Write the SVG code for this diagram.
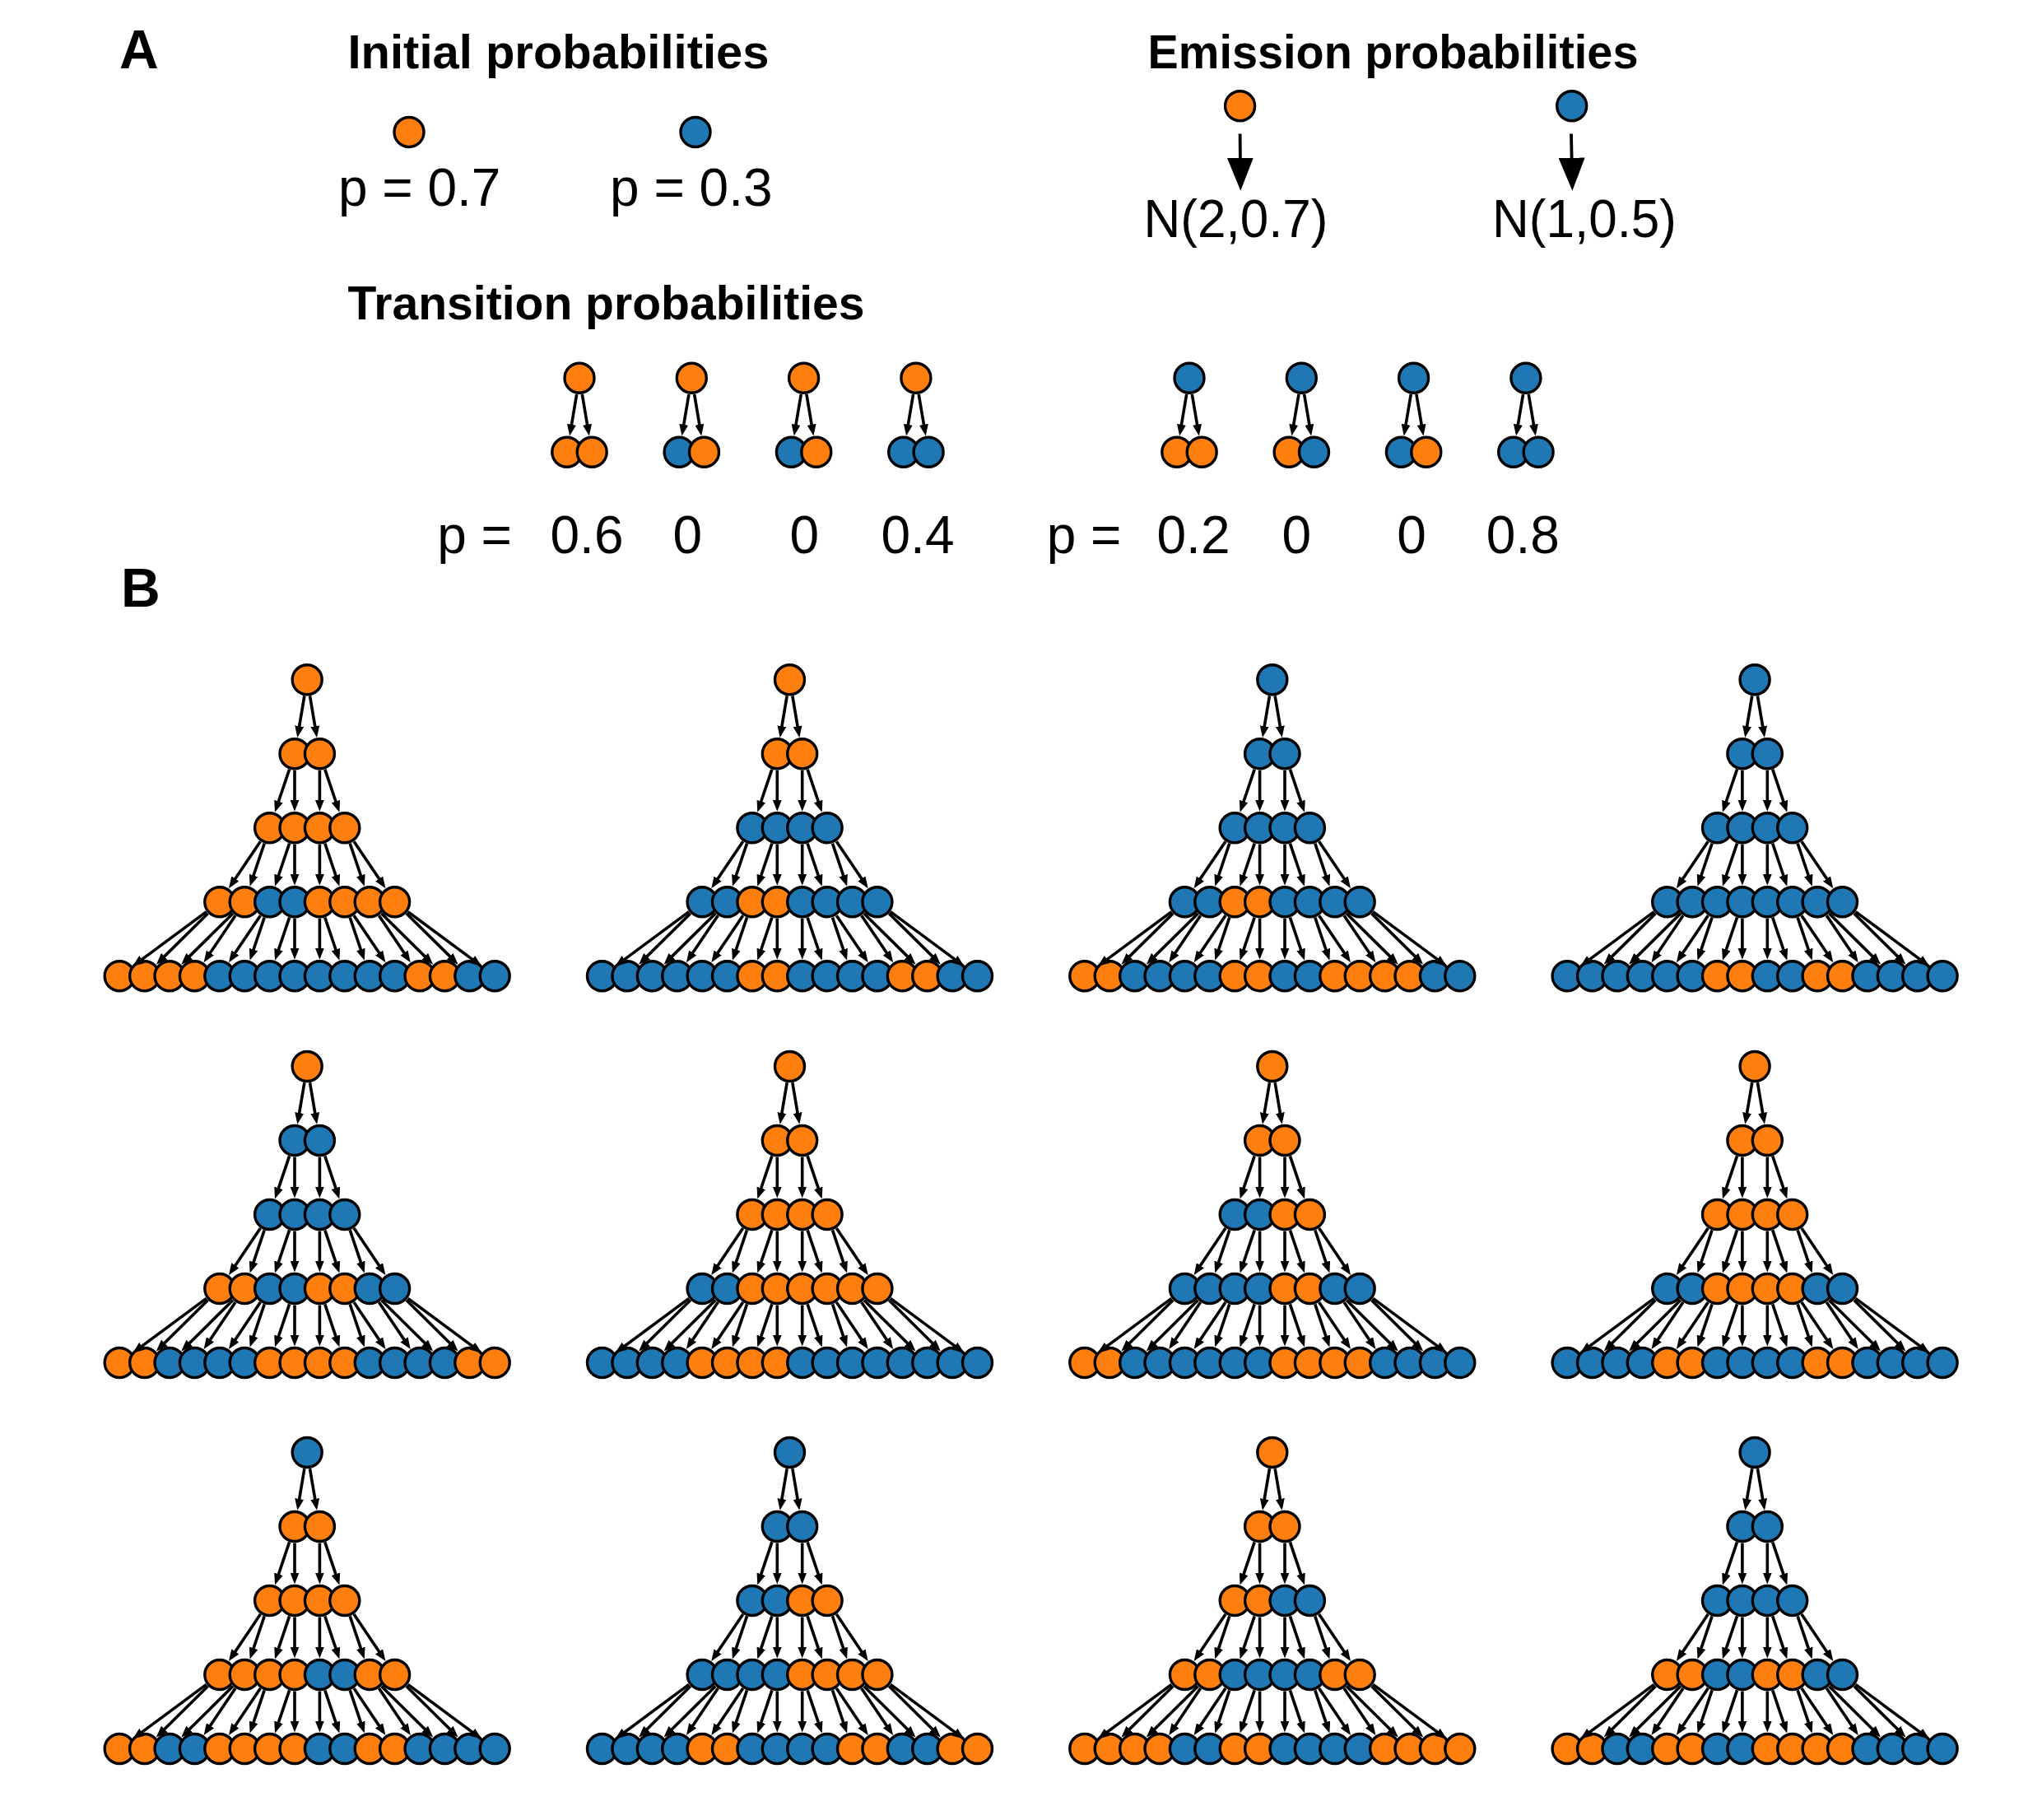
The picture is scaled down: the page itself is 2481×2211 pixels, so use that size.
<svg xmlns="http://www.w3.org/2000/svg" xmlns:xlink="http://www.w3.org/1999/xlink" width="2481" height="2211" viewBox="0 0 2481 2211">
<style>
.o{fill:#ff7f0e;stroke:#000;stroke-width:3.4}
.b{fill:#1f77b4;stroke:#000;stroke-width:3.4}
.e{stroke:#000;stroke-width:3.6;fill:none;marker-end:url(#ah)}
.em{stroke:#000;stroke-width:3.8;fill:none;marker-end:url(#bah)}
.h{font-family:"Liberation Sans",Arial,sans-serif;font-weight:bold;font-size:58px;text-anchor:middle;fill:#000}
.lab{font-family:"Liberation Sans",Arial,sans-serif;font-weight:bold;font-size:66px;fill:#000}
.t{font-family:"Liberation Sans",Arial,sans-serif;font-size:64px;text-anchor:middle;fill:#000}
</style>
<defs>
<marker id="ah" markerUnits="userSpaceOnUse" markerWidth="14" markerHeight="11" viewBox="0 0 14 11" refX="4" refY="5.5" orient="auto"><path d="M0,0 L14,5.5 L0,11 z" fill="#000"/></marker>
<marker id="bah" markerUnits="userSpaceOnUse" markerWidth="40" markerHeight="32" viewBox="0 0 40 32" refX="10" refY="16" orient="auto"><path d="M0,0 L40,16 L0,32 z" fill="#000"/></marker>
<g id="pairEdges">
<line class="e" x1="-3.33" y1="19.72" x2="-10.2" y2="60.42"/>
<line class="e" x1="3.33" y1="19.72" x2="10.2" y2="60.42"/>
</g>
<g id="treeEdges">
<line class="e" x1="-3.33" y1="19.72" x2="-10.2" y2="60.42"/>
<line class="e" x1="3.33" y1="19.72" x2="10.2" y2="60.42"/>
<line class="e" x1="-21.6" y1="108.95" x2="-36" y2="151.58"/>
<line class="e" x1="-15.2" y1="110" x2="-15.2" y2="150"/>
<line class="e" x1="15.2" y1="110" x2="15.2" y2="150"/>
<line class="e" x1="21.6" y1="108.95" x2="36" y2="151.58"/>
<line class="e" x1="-56.8" y1="196.57" x2="-89.61" y2="245.14"/>
<line class="e" x1="-52" y1="198.95" x2="-66.4" y2="241.58"/>
<line class="e" x1="-21.6" y1="198.95" x2="-36" y2="241.58"/>
<line class="e" x1="-15.2" y1="200" x2="-15.2" y2="240"/>
<line class="e" x1="15.2" y1="200" x2="15.2" y2="240"/>
<line class="e" x1="21.6" y1="198.95" x2="36" y2="241.58"/>
<line class="e" x1="52" y1="198.95" x2="66.4" y2="241.58"/>
<line class="e" x1="56.8" y1="196.57" x2="89.61" y2="245.14"/>
<line class="e" x1="-122.48" y1="281.9" x2="-203.89" y2="342.15"/>
<line class="e" x1="-120.64" y1="284.05" x2="-176.25" y2="338.93"/>
<line class="e" x1="-90.24" y1="284.05" x2="-145.85" y2="338.93"/>
<line class="e" x1="-87.2" y1="286.57" x2="-120.01" y2="335.14"/>
<line class="e" x1="-56.8" y1="286.57" x2="-89.61" y2="335.14"/>
<line class="e" x1="-52" y1="288.95" x2="-66.4" y2="331.58"/>
<line class="e" x1="-21.6" y1="288.95" x2="-36" y2="331.58"/>
<line class="e" x1="-15.2" y1="290" x2="-15.2" y2="330"/>
<line class="e" x1="15.2" y1="290" x2="15.2" y2="330"/>
<line class="e" x1="21.6" y1="288.95" x2="36" y2="331.58"/>
<line class="e" x1="52" y1="288.95" x2="66.4" y2="331.58"/>
<line class="e" x1="56.8" y1="286.57" x2="89.61" y2="335.14"/>
<line class="e" x1="87.2" y1="286.57" x2="120.01" y2="335.14"/>
<line class="e" x1="90.24" y1="284.05" x2="145.85" y2="338.93"/>
<line class="e" x1="120.64" y1="284.05" x2="176.25" y2="338.93"/>
<line class="e" x1="122.48" y1="281.9" x2="203.89" y2="342.15"/>
</g>
</defs>
<rect width="2481" height="2211" fill="#fff"/>

<!-- Labels -->
<text class="lab" x="145" y="83">A</text>
<text class="lab" x="147" y="737">B</text>
<text class="h" x="678.5" y="83" textLength="512" lengthAdjust="spacingAndGlyphs">Initial probabilities</text>
<text class="h" x="1692.5" y="83" textLength="596" lengthAdjust="spacingAndGlyphs">Emission probabilities</text>
<text class="h" x="736.5" y="388" textLength="628" lengthAdjust="spacingAndGlyphs">Transition probabilities</text>
<text class="t" x="509.7" y="250">p = 0.7</text>
<text class="t" x="839.8" y="250">p = 0.3</text>
<text class="t" x="1501.5" y="288" textLength="224" lengthAdjust="spacingAndGlyphs">N(2,0.7)</text>
<text class="t" x="1925" y="288" textLength="224" lengthAdjust="spacingAndGlyphs">N(1,0.5)</text>
<text class="t" x="576.5" y="672">p =</text>
<text class="t" x="713" y="672">0.6</text>
<text class="t" x="835.3" y="672">0</text>
<text class="t" x="977.3" y="672">0</text>
<text class="t" x="1115" y="672">0.4</text>
<text class="t" x="1317" y="672">p =</text>
<text class="t" x="1450" y="672">0.2</text>
<text class="t" x="1575.3" y="672">0</text>
<text class="t" x="1715" y="672">0</text>
<text class="t" x="1850.3" y="672">0.8</text>

<!-- Initial and emission nodes -->
<g id="init-orange"><circle class="o" cx="497" cy="160.5" r="18"/></g>
<g id="init-blue"><circle class="b" cx="845" cy="160.5" r="18"/></g>
<g id="emit-orange"><circle class="o" cx="1506.6" cy="128.8" r="18"/></g>
<g id="emit-blue"><circle class="b" cx="1909.7" cy="128.8" r="18"/></g>

<!-- Transition pairs -->
<g id="pair-o1" transform="translate(704,459.3)">
<g id="po1-p"><circle class="o" cx="0" cy="0" r="18"/></g><g id="po1-l"><circle class="o" cx="-15.2" cy="90" r="18"/></g><g id="po1-r"><circle class="o" cx="15.2" cy="90" r="18"/></g>
</g>
<g id="pair-o2" transform="translate(840.3,459.3)">
<g id="po2-p"><circle class="o" cx="0" cy="0" r="18"/></g><g id="po2-l"><circle class="b" cx="-15.2" cy="90" r="18"/></g><g id="po2-r"><circle class="o" cx="15.2" cy="90" r="18"/></g>
</g>
<g id="pair-o3" transform="translate(976.6,459.3)">
<g id="po3-p"><circle class="o" cx="0" cy="0" r="18"/></g><g id="po3-l"><circle class="b" cx="-15.2" cy="90" r="18"/></g><g id="po3-r"><circle class="o" cx="15.2" cy="90" r="18"/></g>
</g>
<g id="pair-o4" transform="translate(1112.9,459.3)">
<g id="po4-p"><circle class="o" cx="0" cy="0" r="18"/></g><g id="po4-l"><circle class="b" cx="-15.2" cy="90" r="18"/></g><g id="po4-r"><circle class="b" cx="15.2" cy="90" r="18"/></g>
</g>
<g id="pair-b1" transform="translate(1445,459.3)">
<g id="pb1-p"><circle class="b" cx="0" cy="0" r="18"/></g><g id="pb1-l"><circle class="o" cx="-15.2" cy="90" r="18"/></g><g id="pb1-r"><circle class="o" cx="15.2" cy="90" r="18"/></g>
</g>
<g id="pair-b2" transform="translate(1581.3,459.3)">
<g id="pb2-p"><circle class="b" cx="0" cy="0" r="18"/></g><g id="pb2-l"><circle class="o" cx="-15.2" cy="90" r="18"/></g><g id="pb2-r"><circle class="b" cx="15.2" cy="90" r="18"/></g>
</g>
<g id="pair-b3" transform="translate(1717.6,459.3)">
<g id="pb3-p"><circle class="b" cx="0" cy="0" r="18"/></g><g id="pb3-l"><circle class="b" cx="-15.2" cy="90" r="18"/></g><g id="pb3-r"><circle class="o" cx="15.2" cy="90" r="18"/></g>
</g>
<g id="pair-b4" transform="translate(1853.9,459.3)">
<g id="pb4-p"><circle class="b" cx="0" cy="0" r="18"/></g><g id="pb4-l"><circle class="b" cx="-15.2" cy="90" r="18"/></g><g id="pb4-r"><circle class="b" cx="15.2" cy="90" r="18"/></g>
</g>

<!-- Tree r1c1 -->
<g id="tree-r1c1" transform="translate(373.2,825.7)">
<g id="r1c1-1-1"><circle class="o" cx="0" cy="0" r="18"/></g>
<g id="r1c1-2-1"><circle class="o" cx="-15.2" cy="90" r="18"/></g><g id="r1c1-2-2"><circle class="o" cx="15.2" cy="90" r="18"/></g>
<g id="r1c1-3-1"><circle class="o" cx="-45.6" cy="180" r="18"/></g><g id="r1c1-3-2"><circle class="o" cx="-15.2" cy="180" r="18"/></g><g id="r1c1-3-3"><circle class="o" cx="15.2" cy="180" r="18"/></g><g id="r1c1-3-4"><circle class="o" cx="45.6" cy="180" r="18"/></g>
<g id="r1c1-4-1"><circle class="o" cx="-106.4" cy="270" r="18"/></g><g id="r1c1-4-2"><circle class="o" cx="-76" cy="270" r="18"/></g><g id="r1c1-4-3"><circle class="b" cx="-45.6" cy="270" r="18"/></g><g id="r1c1-4-4"><circle class="b" cx="-15.2" cy="270" r="18"/></g><g id="r1c1-4-5"><circle class="o" cx="15.2" cy="270" r="18"/></g><g id="r1c1-4-6"><circle class="o" cx="45.6" cy="270" r="18"/></g><g id="r1c1-4-7"><circle class="o" cx="76" cy="270" r="18"/></g><g id="r1c1-4-8"><circle class="o" cx="106.4" cy="270" r="18"/></g>
<g id="r1c1-5-1"><circle class="o" cx="-228" cy="360" r="18"/></g><g id="r1c1-5-2"><circle class="o" cx="-197.6" cy="360" r="18"/></g><g id="r1c1-5-3"><circle class="o" cx="-167.2" cy="360" r="18"/></g><g id="r1c1-5-4"><circle class="o" cx="-136.8" cy="360" r="18"/></g><g id="r1c1-5-5"><circle class="b" cx="-106.4" cy="360" r="18"/></g><g id="r1c1-5-6"><circle class="b" cx="-76" cy="360" r="18"/></g><g id="r1c1-5-7"><circle class="b" cx="-45.6" cy="360" r="18"/></g><g id="r1c1-5-8"><circle class="b" cx="-15.2" cy="360" r="18"/></g><g id="r1c1-5-9"><circle class="b" cx="15.2" cy="360" r="18"/></g><g id="r1c1-5-10"><circle class="b" cx="45.6" cy="360" r="18"/></g><g id="r1c1-5-11"><circle class="b" cx="76" cy="360" r="18"/></g><g id="r1c1-5-12"><circle class="b" cx="106.4" cy="360" r="18"/></g><g id="r1c1-5-13"><circle class="o" cx="136.8" cy="360" r="18"/></g><g id="r1c1-5-14"><circle class="o" cx="167.2" cy="360" r="18"/></g><g id="r1c1-5-15"><circle class="b" cx="197.6" cy="360" r="18"/></g><g id="r1c1-5-16"><circle class="b" cx="228" cy="360" r="18"/></g>
</g>

<!-- Tree r1c2 -->
<g id="tree-r1c2" transform="translate(959.5,825.7)">
<g id="r1c2-1-1"><circle class="o" cx="0" cy="0" r="18"/></g>
<g id="r1c2-2-1"><circle class="o" cx="-15.2" cy="90" r="18"/></g><g id="r1c2-2-2"><circle class="o" cx="15.2" cy="90" r="18"/></g>
<g id="r1c2-3-1"><circle class="b" cx="-45.6" cy="180" r="18"/></g><g id="r1c2-3-2"><circle class="b" cx="-15.2" cy="180" r="18"/></g><g id="r1c2-3-3"><circle class="b" cx="15.2" cy="180" r="18"/></g><g id="r1c2-3-4"><circle class="b" cx="45.6" cy="180" r="18"/></g>
<g id="r1c2-4-1"><circle class="b" cx="-106.4" cy="270" r="18"/></g><g id="r1c2-4-2"><circle class="b" cx="-76" cy="270" r="18"/></g><g id="r1c2-4-3"><circle class="o" cx="-45.6" cy="270" r="18"/></g><g id="r1c2-4-4"><circle class="o" cx="-15.2" cy="270" r="18"/></g><g id="r1c2-4-5"><circle class="b" cx="15.2" cy="270" r="18"/></g><g id="r1c2-4-6"><circle class="b" cx="45.6" cy="270" r="18"/></g><g id="r1c2-4-7"><circle class="b" cx="76" cy="270" r="18"/></g><g id="r1c2-4-8"><circle class="b" cx="106.4" cy="270" r="18"/></g>
<g id="r1c2-5-1"><circle class="b" cx="-228" cy="360" r="18"/></g><g id="r1c2-5-2"><circle class="b" cx="-197.6" cy="360" r="18"/></g><g id="r1c2-5-3"><circle class="b" cx="-167.2" cy="360" r="18"/></g><g id="r1c2-5-4"><circle class="b" cx="-136.8" cy="360" r="18"/></g><g id="r1c2-5-5"><circle class="b" cx="-106.4" cy="360" r="18"/></g><g id="r1c2-5-6"><circle class="b" cx="-76" cy="360" r="18"/></g><g id="r1c2-5-7"><circle class="o" cx="-45.6" cy="360" r="18"/></g><g id="r1c2-5-8"><circle class="o" cx="-15.2" cy="360" r="18"/></g><g id="r1c2-5-9"><circle class="b" cx="15.2" cy="360" r="18"/></g><g id="r1c2-5-10"><circle class="b" cx="45.6" cy="360" r="18"/></g><g id="r1c2-5-11"><circle class="b" cx="76" cy="360" r="18"/></g><g id="r1c2-5-12"><circle class="b" cx="106.4" cy="360" r="18"/></g><g id="r1c2-5-13"><circle class="o" cx="136.8" cy="360" r="18"/></g><g id="r1c2-5-14"><circle class="o" cx="167.2" cy="360" r="18"/></g><g id="r1c2-5-15"><circle class="b" cx="197.6" cy="360" r="18"/></g><g id="r1c2-5-16"><circle class="b" cx="228" cy="360" r="18"/></g>
</g>

<!-- Tree r1c3 -->
<g id="tree-r1c3" transform="translate(1545.8,825.7)">
<g id="r1c3-1-1"><circle class="b" cx="0" cy="0" r="18"/></g>
<g id="r1c3-2-1"><circle class="b" cx="-15.2" cy="90" r="18"/></g><g id="r1c3-2-2"><circle class="b" cx="15.2" cy="90" r="18"/></g>
<g id="r1c3-3-1"><circle class="b" cx="-45.6" cy="180" r="18"/></g><g id="r1c3-3-2"><circle class="b" cx="-15.2" cy="180" r="18"/></g><g id="r1c3-3-3"><circle class="b" cx="15.2" cy="180" r="18"/></g><g id="r1c3-3-4"><circle class="b" cx="45.6" cy="180" r="18"/></g>
<g id="r1c3-4-1"><circle class="b" cx="-106.4" cy="270" r="18"/></g><g id="r1c3-4-2"><circle class="b" cx="-76" cy="270" r="18"/></g><g id="r1c3-4-3"><circle class="o" cx="-45.6" cy="270" r="18"/></g><g id="r1c3-4-4"><circle class="o" cx="-15.2" cy="270" r="18"/></g><g id="r1c3-4-5"><circle class="b" cx="15.2" cy="270" r="18"/></g><g id="r1c3-4-6"><circle class="b" cx="45.6" cy="270" r="18"/></g><g id="r1c3-4-7"><circle class="b" cx="76" cy="270" r="18"/></g><g id="r1c3-4-8"><circle class="b" cx="106.4" cy="270" r="18"/></g>
<g id="r1c3-5-1"><circle class="o" cx="-228" cy="360" r="18"/></g><g id="r1c3-5-2"><circle class="o" cx="-197.6" cy="360" r="18"/></g><g id="r1c3-5-3"><circle class="b" cx="-167.2" cy="360" r="18"/></g><g id="r1c3-5-4"><circle class="b" cx="-136.8" cy="360" r="18"/></g><g id="r1c3-5-5"><circle class="b" cx="-106.4" cy="360" r="18"/></g><g id="r1c3-5-6"><circle class="b" cx="-76" cy="360" r="18"/></g><g id="r1c3-5-7"><circle class="o" cx="-45.6" cy="360" r="18"/></g><g id="r1c3-5-8"><circle class="o" cx="-15.2" cy="360" r="18"/></g><g id="r1c3-5-9"><circle class="b" cx="15.2" cy="360" r="18"/></g><g id="r1c3-5-10"><circle class="b" cx="45.6" cy="360" r="18"/></g><g id="r1c3-5-11"><circle class="o" cx="76" cy="360" r="18"/></g><g id="r1c3-5-12"><circle class="o" cx="106.4" cy="360" r="18"/></g><g id="r1c3-5-13"><circle class="o" cx="136.8" cy="360" r="18"/></g><g id="r1c3-5-14"><circle class="o" cx="167.2" cy="360" r="18"/></g><g id="r1c3-5-15"><circle class="b" cx="197.6" cy="360" r="18"/></g><g id="r1c3-5-16"><circle class="b" cx="228" cy="360" r="18"/></g>
</g>

<!-- Tree r1c4 -->
<g id="tree-r1c4" transform="translate(2132.1,825.7)">
<g id="r1c4-1-1"><circle class="b" cx="0" cy="0" r="18"/></g>
<g id="r1c4-2-1"><circle class="b" cx="-15.2" cy="90" r="18"/></g><g id="r1c4-2-2"><circle class="b" cx="15.2" cy="90" r="18"/></g>
<g id="r1c4-3-1"><circle class="b" cx="-45.6" cy="180" r="18"/></g><g id="r1c4-3-2"><circle class="b" cx="-15.2" cy="180" r="18"/></g><g id="r1c4-3-3"><circle class="b" cx="15.2" cy="180" r="18"/></g><g id="r1c4-3-4"><circle class="b" cx="45.6" cy="180" r="18"/></g>
<g id="r1c4-4-1"><circle class="b" cx="-106.4" cy="270" r="18"/></g><g id="r1c4-4-2"><circle class="b" cx="-76" cy="270" r="18"/></g><g id="r1c4-4-3"><circle class="b" cx="-45.6" cy="270" r="18"/></g><g id="r1c4-4-4"><circle class="b" cx="-15.2" cy="270" r="18"/></g><g id="r1c4-4-5"><circle class="b" cx="15.2" cy="270" r="18"/></g><g id="r1c4-4-6"><circle class="b" cx="45.6" cy="270" r="18"/></g><g id="r1c4-4-7"><circle class="b" cx="76" cy="270" r="18"/></g><g id="r1c4-4-8"><circle class="b" cx="106.4" cy="270" r="18"/></g>
<g id="r1c4-5-1"><circle class="b" cx="-228" cy="360" r="18"/></g><g id="r1c4-5-2"><circle class="b" cx="-197.6" cy="360" r="18"/></g><g id="r1c4-5-3"><circle class="b" cx="-167.2" cy="360" r="18"/></g><g id="r1c4-5-4"><circle class="b" cx="-136.8" cy="360" r="18"/></g><g id="r1c4-5-5"><circle class="b" cx="-106.4" cy="360" r="18"/></g><g id="r1c4-5-6"><circle class="b" cx="-76" cy="360" r="18"/></g><g id="r1c4-5-7"><circle class="o" cx="-45.6" cy="360" r="18"/></g><g id="r1c4-5-8"><circle class="o" cx="-15.2" cy="360" r="18"/></g><g id="r1c4-5-9"><circle class="b" cx="15.2" cy="360" r="18"/></g><g id="r1c4-5-10"><circle class="b" cx="45.6" cy="360" r="18"/></g><g id="r1c4-5-11"><circle class="o" cx="76" cy="360" r="18"/></g><g id="r1c4-5-12"><circle class="o" cx="106.4" cy="360" r="18"/></g><g id="r1c4-5-13"><circle class="b" cx="136.8" cy="360" r="18"/></g><g id="r1c4-5-14"><circle class="b" cx="167.2" cy="360" r="18"/></g><g id="r1c4-5-15"><circle class="b" cx="197.6" cy="360" r="18"/></g><g id="r1c4-5-16"><circle class="b" cx="228" cy="360" r="18"/></g>
</g>

<!-- Tree r2c1 -->
<g id="tree-r2c1" transform="translate(373.2,1295.5)">
<g id="r2c1-1-1"><circle class="o" cx="0" cy="0" r="18"/></g>
<g id="r2c1-2-1"><circle class="b" cx="-15.2" cy="90" r="18"/></g><g id="r2c1-2-2"><circle class="b" cx="15.2" cy="90" r="18"/></g>
<g id="r2c1-3-1"><circle class="b" cx="-45.6" cy="180" r="18"/></g><g id="r2c1-3-2"><circle class="b" cx="-15.2" cy="180" r="18"/></g><g id="r2c1-3-3"><circle class="b" cx="15.2" cy="180" r="18"/></g><g id="r2c1-3-4"><circle class="b" cx="45.6" cy="180" r="18"/></g>
<g id="r2c1-4-1"><circle class="o" cx="-106.4" cy="270" r="18"/></g><g id="r2c1-4-2"><circle class="o" cx="-76" cy="270" r="18"/></g><g id="r2c1-4-3"><circle class="b" cx="-45.6" cy="270" r="18"/></g><g id="r2c1-4-4"><circle class="b" cx="-15.2" cy="270" r="18"/></g><g id="r2c1-4-5"><circle class="o" cx="15.2" cy="270" r="18"/></g><g id="r2c1-4-6"><circle class="o" cx="45.6" cy="270" r="18"/></g><g id="r2c1-4-7"><circle class="b" cx="76" cy="270" r="18"/></g><g id="r2c1-4-8"><circle class="b" cx="106.4" cy="270" r="18"/></g>
<g id="r2c1-5-1"><circle class="o" cx="-228" cy="360" r="18"/></g><g id="r2c1-5-2"><circle class="o" cx="-197.6" cy="360" r="18"/></g><g id="r2c1-5-3"><circle class="b" cx="-167.2" cy="360" r="18"/></g><g id="r2c1-5-4"><circle class="b" cx="-136.8" cy="360" r="18"/></g><g id="r2c1-5-5"><circle class="b" cx="-106.4" cy="360" r="18"/></g><g id="r2c1-5-6"><circle class="b" cx="-76" cy="360" r="18"/></g><g id="r2c1-5-7"><circle class="o" cx="-45.6" cy="360" r="18"/></g><g id="r2c1-5-8"><circle class="o" cx="-15.2" cy="360" r="18"/></g><g id="r2c1-5-9"><circle class="o" cx="15.2" cy="360" r="18"/></g><g id="r2c1-5-10"><circle class="o" cx="45.6" cy="360" r="18"/></g><g id="r2c1-5-11"><circle class="b" cx="76" cy="360" r="18"/></g><g id="r2c1-5-12"><circle class="b" cx="106.4" cy="360" r="18"/></g><g id="r2c1-5-13"><circle class="b" cx="136.8" cy="360" r="18"/></g><g id="r2c1-5-14"><circle class="b" cx="167.2" cy="360" r="18"/></g><g id="r2c1-5-15"><circle class="o" cx="197.6" cy="360" r="18"/></g><g id="r2c1-5-16"><circle class="o" cx="228" cy="360" r="18"/></g>
</g>

<!-- Tree r2c2 -->
<g id="tree-r2c2" transform="translate(959.5,1295.5)">
<g id="r2c2-1-1"><circle class="o" cx="0" cy="0" r="18"/></g>
<g id="r2c2-2-1"><circle class="o" cx="-15.2" cy="90" r="18"/></g><g id="r2c2-2-2"><circle class="o" cx="15.2" cy="90" r="18"/></g>
<g id="r2c2-3-1"><circle class="o" cx="-45.6" cy="180" r="18"/></g><g id="r2c2-3-2"><circle class="o" cx="-15.2" cy="180" r="18"/></g><g id="r2c2-3-3"><circle class="o" cx="15.2" cy="180" r="18"/></g><g id="r2c2-3-4"><circle class="o" cx="45.6" cy="180" r="18"/></g>
<g id="r2c2-4-1"><circle class="b" cx="-106.4" cy="270" r="18"/></g><g id="r2c2-4-2"><circle class="b" cx="-76" cy="270" r="18"/></g><g id="r2c2-4-3"><circle class="o" cx="-45.6" cy="270" r="18"/></g><g id="r2c2-4-4"><circle class="o" cx="-15.2" cy="270" r="18"/></g><g id="r2c2-4-5"><circle class="o" cx="15.2" cy="270" r="18"/></g><g id="r2c2-4-6"><circle class="o" cx="45.6" cy="270" r="18"/></g><g id="r2c2-4-7"><circle class="o" cx="76" cy="270" r="18"/></g><g id="r2c2-4-8"><circle class="o" cx="106.4" cy="270" r="18"/></g>
<g id="r2c2-5-1"><circle class="b" cx="-228" cy="360" r="18"/></g><g id="r2c2-5-2"><circle class="b" cx="-197.6" cy="360" r="18"/></g><g id="r2c2-5-3"><circle class="b" cx="-167.2" cy="360" r="18"/></g><g id="r2c2-5-4"><circle class="b" cx="-136.8" cy="360" r="18"/></g><g id="r2c2-5-5"><circle class="o" cx="-106.4" cy="360" r="18"/></g><g id="r2c2-5-6"><circle class="o" cx="-76" cy="360" r="18"/></g><g id="r2c2-5-7"><circle class="o" cx="-45.6" cy="360" r="18"/></g><g id="r2c2-5-8"><circle class="o" cx="-15.2" cy="360" r="18"/></g><g id="r2c2-5-9"><circle class="b" cx="15.2" cy="360" r="18"/></g><g id="r2c2-5-10"><circle class="b" cx="45.6" cy="360" r="18"/></g><g id="r2c2-5-11"><circle class="b" cx="76" cy="360" r="18"/></g><g id="r2c2-5-12"><circle class="b" cx="106.4" cy="360" r="18"/></g><g id="r2c2-5-13"><circle class="b" cx="136.8" cy="360" r="18"/></g><g id="r2c2-5-14"><circle class="b" cx="167.2" cy="360" r="18"/></g><g id="r2c2-5-15"><circle class="b" cx="197.6" cy="360" r="18"/></g><g id="r2c2-5-16"><circle class="b" cx="228" cy="360" r="18"/></g>
</g>

<!-- Tree r2c3 -->
<g id="tree-r2c3" transform="translate(1545.8,1295.5)">
<g id="r2c3-1-1"><circle class="o" cx="0" cy="0" r="18"/></g>
<g id="r2c3-2-1"><circle class="o" cx="-15.2" cy="90" r="18"/></g><g id="r2c3-2-2"><circle class="o" cx="15.2" cy="90" r="18"/></g>
<g id="r2c3-3-1"><circle class="b" cx="-45.6" cy="180" r="18"/></g><g id="r2c3-3-2"><circle class="b" cx="-15.2" cy="180" r="18"/></g><g id="r2c3-3-3"><circle class="o" cx="15.2" cy="180" r="18"/></g><g id="r2c3-3-4"><circle class="o" cx="45.6" cy="180" r="18"/></g>
<g id="r2c3-4-1"><circle class="b" cx="-106.4" cy="270" r="18"/></g><g id="r2c3-4-2"><circle class="b" cx="-76" cy="270" r="18"/></g><g id="r2c3-4-3"><circle class="b" cx="-45.6" cy="270" r="18"/></g><g id="r2c3-4-4"><circle class="b" cx="-15.2" cy="270" r="18"/></g><g id="r2c3-4-5"><circle class="o" cx="15.2" cy="270" r="18"/></g><g id="r2c3-4-6"><circle class="o" cx="45.6" cy="270" r="18"/></g><g id="r2c3-4-7"><circle class="b" cx="76" cy="270" r="18"/></g><g id="r2c3-4-8"><circle class="b" cx="106.4" cy="270" r="18"/></g>
<g id="r2c3-5-1"><circle class="o" cx="-228" cy="360" r="18"/></g><g id="r2c3-5-2"><circle class="o" cx="-197.6" cy="360" r="18"/></g><g id="r2c3-5-3"><circle class="b" cx="-167.2" cy="360" r="18"/></g><g id="r2c3-5-4"><circle class="b" cx="-136.8" cy="360" r="18"/></g><g id="r2c3-5-5"><circle class="b" cx="-106.4" cy="360" r="18"/></g><g id="r2c3-5-6"><circle class="b" cx="-76" cy="360" r="18"/></g><g id="r2c3-5-7"><circle class="b" cx="-45.6" cy="360" r="18"/></g><g id="r2c3-5-8"><circle class="b" cx="-15.2" cy="360" r="18"/></g><g id="r2c3-5-9"><circle class="o" cx="15.2" cy="360" r="18"/></g><g id="r2c3-5-10"><circle class="o" cx="45.6" cy="360" r="18"/></g><g id="r2c3-5-11"><circle class="o" cx="76" cy="360" r="18"/></g><g id="r2c3-5-12"><circle class="o" cx="106.4" cy="360" r="18"/></g><g id="r2c3-5-13"><circle class="b" cx="136.8" cy="360" r="18"/></g><g id="r2c3-5-14"><circle class="b" cx="167.2" cy="360" r="18"/></g><g id="r2c3-5-15"><circle class="b" cx="197.6" cy="360" r="18"/></g><g id="r2c3-5-16"><circle class="b" cx="228" cy="360" r="18"/></g>
</g>

<!-- Tree r2c4 -->
<g id="tree-r2c4" transform="translate(2132.1,1295.5)">
<g id="r2c4-1-1"><circle class="o" cx="0" cy="0" r="18"/></g>
<g id="r2c4-2-1"><circle class="o" cx="-15.2" cy="90" r="18"/></g><g id="r2c4-2-2"><circle class="o" cx="15.2" cy="90" r="18"/></g>
<g id="r2c4-3-1"><circle class="o" cx="-45.6" cy="180" r="18"/></g><g id="r2c4-3-2"><circle class="o" cx="-15.2" cy="180" r="18"/></g><g id="r2c4-3-3"><circle class="o" cx="15.2" cy="180" r="18"/></g><g id="r2c4-3-4"><circle class="o" cx="45.6" cy="180" r="18"/></g>
<g id="r2c4-4-1"><circle class="b" cx="-106.4" cy="270" r="18"/></g><g id="r2c4-4-2"><circle class="b" cx="-76" cy="270" r="18"/></g><g id="r2c4-4-3"><circle class="o" cx="-45.6" cy="270" r="18"/></g><g id="r2c4-4-4"><circle class="o" cx="-15.2" cy="270" r="18"/></g><g id="r2c4-4-5"><circle class="o" cx="15.2" cy="270" r="18"/></g><g id="r2c4-4-6"><circle class="o" cx="45.6" cy="270" r="18"/></g><g id="r2c4-4-7"><circle class="b" cx="76" cy="270" r="18"/></g><g id="r2c4-4-8"><circle class="b" cx="106.4" cy="270" r="18"/></g>
<g id="r2c4-5-1"><circle class="b" cx="-228" cy="360" r="18"/></g><g id="r2c4-5-2"><circle class="b" cx="-197.6" cy="360" r="18"/></g><g id="r2c4-5-3"><circle class="b" cx="-167.2" cy="360" r="18"/></g><g id="r2c4-5-4"><circle class="b" cx="-136.8" cy="360" r="18"/></g><g id="r2c4-5-5"><circle class="o" cx="-106.4" cy="360" r="18"/></g><g id="r2c4-5-6"><circle class="o" cx="-76" cy="360" r="18"/></g><g id="r2c4-5-7"><circle class="b" cx="-45.6" cy="360" r="18"/></g><g id="r2c4-5-8"><circle class="b" cx="-15.2" cy="360" r="18"/></g><g id="r2c4-5-9"><circle class="b" cx="15.2" cy="360" r="18"/></g><g id="r2c4-5-10"><circle class="b" cx="45.6" cy="360" r="18"/></g><g id="r2c4-5-11"><circle class="o" cx="76" cy="360" r="18"/></g><g id="r2c4-5-12"><circle class="o" cx="106.4" cy="360" r="18"/></g><g id="r2c4-5-13"><circle class="b" cx="136.8" cy="360" r="18"/></g><g id="r2c4-5-14"><circle class="b" cx="167.2" cy="360" r="18"/></g><g id="r2c4-5-15"><circle class="b" cx="197.6" cy="360" r="18"/></g><g id="r2c4-5-16"><circle class="b" cx="228" cy="360" r="18"/></g>
</g>

<!-- Tree r3c1 -->
<g id="tree-r3c1" transform="translate(373.2,1764.5)">
<g id="r3c1-1-1"><circle class="b" cx="0" cy="0" r="18"/></g>
<g id="r3c1-2-1"><circle class="o" cx="-15.2" cy="90" r="18"/></g><g id="r3c1-2-2"><circle class="o" cx="15.2" cy="90" r="18"/></g>
<g id="r3c1-3-1"><circle class="o" cx="-45.6" cy="180" r="18"/></g><g id="r3c1-3-2"><circle class="o" cx="-15.2" cy="180" r="18"/></g><g id="r3c1-3-3"><circle class="o" cx="15.2" cy="180" r="18"/></g><g id="r3c1-3-4"><circle class="o" cx="45.6" cy="180" r="18"/></g>
<g id="r3c1-4-1"><circle class="o" cx="-106.4" cy="270" r="18"/></g><g id="r3c1-4-2"><circle class="o" cx="-76" cy="270" r="18"/></g><g id="r3c1-4-3"><circle class="o" cx="-45.6" cy="270" r="18"/></g><g id="r3c1-4-4"><circle class="o" cx="-15.2" cy="270" r="18"/></g><g id="r3c1-4-5"><circle class="b" cx="15.2" cy="270" r="18"/></g><g id="r3c1-4-6"><circle class="b" cx="45.6" cy="270" r="18"/></g><g id="r3c1-4-7"><circle class="o" cx="76" cy="270" r="18"/></g><g id="r3c1-4-8"><circle class="o" cx="106.4" cy="270" r="18"/></g>
<g id="r3c1-5-1"><circle class="o" cx="-228" cy="360" r="18"/></g><g id="r3c1-5-2"><circle class="o" cx="-197.6" cy="360" r="18"/></g><g id="r3c1-5-3"><circle class="b" cx="-167.2" cy="360" r="18"/></g><g id="r3c1-5-4"><circle class="b" cx="-136.8" cy="360" r="18"/></g><g id="r3c1-5-5"><circle class="o" cx="-106.4" cy="360" r="18"/></g><g id="r3c1-5-6"><circle class="o" cx="-76" cy="360" r="18"/></g><g id="r3c1-5-7"><circle class="o" cx="-45.6" cy="360" r="18"/></g><g id="r3c1-5-8"><circle class="o" cx="-15.2" cy="360" r="18"/></g><g id="r3c1-5-9"><circle class="b" cx="15.2" cy="360" r="18"/></g><g id="r3c1-5-10"><circle class="b" cx="45.6" cy="360" r="18"/></g><g id="r3c1-5-11"><circle class="o" cx="76" cy="360" r="18"/></g><g id="r3c1-5-12"><circle class="o" cx="106.4" cy="360" r="18"/></g><g id="r3c1-5-13"><circle class="b" cx="136.8" cy="360" r="18"/></g><g id="r3c1-5-14"><circle class="b" cx="167.2" cy="360" r="18"/></g><g id="r3c1-5-15"><circle class="b" cx="197.6" cy="360" r="18"/></g><g id="r3c1-5-16"><circle class="b" cx="228" cy="360" r="18"/></g>
</g>

<!-- Tree r3c2 -->
<g id="tree-r3c2" transform="translate(959.5,1764.5)">
<g id="r3c2-1-1"><circle class="b" cx="0" cy="0" r="18"/></g>
<g id="r3c2-2-1"><circle class="b" cx="-15.2" cy="90" r="18"/></g><g id="r3c2-2-2"><circle class="b" cx="15.2" cy="90" r="18"/></g>
<g id="r3c2-3-1"><circle class="b" cx="-45.6" cy="180" r="18"/></g><g id="r3c2-3-2"><circle class="b" cx="-15.2" cy="180" r="18"/></g><g id="r3c2-3-3"><circle class="o" cx="15.2" cy="180" r="18"/></g><g id="r3c2-3-4"><circle class="o" cx="45.6" cy="180" r="18"/></g>
<g id="r3c2-4-1"><circle class="b" cx="-106.4" cy="270" r="18"/></g><g id="r3c2-4-2"><circle class="b" cx="-76" cy="270" r="18"/></g><g id="r3c2-4-3"><circle class="b" cx="-45.6" cy="270" r="18"/></g><g id="r3c2-4-4"><circle class="b" cx="-15.2" cy="270" r="18"/></g><g id="r3c2-4-5"><circle class="o" cx="15.2" cy="270" r="18"/></g><g id="r3c2-4-6"><circle class="o" cx="45.6" cy="270" r="18"/></g><g id="r3c2-4-7"><circle class="o" cx="76" cy="270" r="18"/></g><g id="r3c2-4-8"><circle class="o" cx="106.4" cy="270" r="18"/></g>
<g id="r3c2-5-1"><circle class="b" cx="-228" cy="360" r="18"/></g><g id="r3c2-5-2"><circle class="b" cx="-197.6" cy="360" r="18"/></g><g id="r3c2-5-3"><circle class="b" cx="-167.2" cy="360" r="18"/></g><g id="r3c2-5-4"><circle class="b" cx="-136.8" cy="360" r="18"/></g><g id="r3c2-5-5"><circle class="o" cx="-106.4" cy="360" r="18"/></g><g id="r3c2-5-6"><circle class="o" cx="-76" cy="360" r="18"/></g><g id="r3c2-5-7"><circle class="b" cx="-45.6" cy="360" r="18"/></g><g id="r3c2-5-8"><circle class="b" cx="-15.2" cy="360" r="18"/></g><g id="r3c2-5-9"><circle class="b" cx="15.2" cy="360" r="18"/></g><g id="r3c2-5-10"><circle class="b" cx="45.6" cy="360" r="18"/></g><g id="r3c2-5-11"><circle class="o" cx="76" cy="360" r="18"/></g><g id="r3c2-5-12"><circle class="o" cx="106.4" cy="360" r="18"/></g><g id="r3c2-5-13"><circle class="b" cx="136.8" cy="360" r="18"/></g><g id="r3c2-5-14"><circle class="b" cx="167.2" cy="360" r="18"/></g><g id="r3c2-5-15"><circle class="o" cx="197.6" cy="360" r="18"/></g><g id="r3c2-5-16"><circle class="o" cx="228" cy="360" r="18"/></g>
</g>

<!-- Tree r3c3 -->
<g id="tree-r3c3" transform="translate(1545.8,1764.5)">
<g id="r3c3-1-1"><circle class="o" cx="0" cy="0" r="18"/></g>
<g id="r3c3-2-1"><circle class="o" cx="-15.2" cy="90" r="18"/></g><g id="r3c3-2-2"><circle class="o" cx="15.2" cy="90" r="18"/></g>
<g id="r3c3-3-1"><circle class="o" cx="-45.6" cy="180" r="18"/></g><g id="r3c3-3-2"><circle class="o" cx="-15.2" cy="180" r="18"/></g><g id="r3c3-3-3"><circle class="b" cx="15.2" cy="180" r="18"/></g><g id="r3c3-3-4"><circle class="b" cx="45.6" cy="180" r="18"/></g>
<g id="r3c3-4-1"><circle class="o" cx="-106.4" cy="270" r="18"/></g><g id="r3c3-4-2"><circle class="o" cx="-76" cy="270" r="18"/></g><g id="r3c3-4-3"><circle class="b" cx="-45.6" cy="270" r="18"/></g><g id="r3c3-4-4"><circle class="b" cx="-15.2" cy="270" r="18"/></g><g id="r3c3-4-5"><circle class="b" cx="15.2" cy="270" r="18"/></g><g id="r3c3-4-6"><circle class="b" cx="45.6" cy="270" r="18"/></g><g id="r3c3-4-7"><circle class="o" cx="76" cy="270" r="18"/></g><g id="r3c3-4-8"><circle class="o" cx="106.4" cy="270" r="18"/></g>
<g id="r3c3-5-1"><circle class="o" cx="-228" cy="360" r="18"/></g><g id="r3c3-5-2"><circle class="o" cx="-197.6" cy="360" r="18"/></g><g id="r3c3-5-3"><circle class="o" cx="-167.2" cy="360" r="18"/></g><g id="r3c3-5-4"><circle class="o" cx="-136.8" cy="360" r="18"/></g><g id="r3c3-5-5"><circle class="b" cx="-106.4" cy="360" r="18"/></g><g id="r3c3-5-6"><circle class="b" cx="-76" cy="360" r="18"/></g><g id="r3c3-5-7"><circle class="o" cx="-45.6" cy="360" r="18"/></g><g id="r3c3-5-8"><circle class="o" cx="-15.2" cy="360" r="18"/></g><g id="r3c3-5-9"><circle class="b" cx="15.2" cy="360" r="18"/></g><g id="r3c3-5-10"><circle class="b" cx="45.6" cy="360" r="18"/></g><g id="r3c3-5-11"><circle class="b" cx="76" cy="360" r="18"/></g><g id="r3c3-5-12"><circle class="b" cx="106.4" cy="360" r="18"/></g><g id="r3c3-5-13"><circle class="o" cx="136.8" cy="360" r="18"/></g><g id="r3c3-5-14"><circle class="o" cx="167.2" cy="360" r="18"/></g><g id="r3c3-5-15"><circle class="o" cx="197.6" cy="360" r="18"/></g><g id="r3c3-5-16"><circle class="o" cx="228" cy="360" r="18"/></g>
</g>

<!-- Tree r3c4 -->
<g id="tree-r3c4" transform="translate(2132.1,1764.5)">
<g id="r3c4-1-1"><circle class="b" cx="0" cy="0" r="18"/></g>
<g id="r3c4-2-1"><circle class="b" cx="-15.2" cy="90" r="18"/></g><g id="r3c4-2-2"><circle class="b" cx="15.2" cy="90" r="18"/></g>
<g id="r3c4-3-1"><circle class="b" cx="-45.6" cy="180" r="18"/></g><g id="r3c4-3-2"><circle class="b" cx="-15.2" cy="180" r="18"/></g><g id="r3c4-3-3"><circle class="b" cx="15.2" cy="180" r="18"/></g><g id="r3c4-3-4"><circle class="b" cx="45.6" cy="180" r="18"/></g>
<g id="r3c4-4-1"><circle class="o" cx="-106.4" cy="270" r="18"/></g><g id="r3c4-4-2"><circle class="o" cx="-76" cy="270" r="18"/></g><g id="r3c4-4-3"><circle class="b" cx="-45.6" cy="270" r="18"/></g><g id="r3c4-4-4"><circle class="b" cx="-15.2" cy="270" r="18"/></g><g id="r3c4-4-5"><circle class="o" cx="15.2" cy="270" r="18"/></g><g id="r3c4-4-6"><circle class="o" cx="45.6" cy="270" r="18"/></g><g id="r3c4-4-7"><circle class="b" cx="76" cy="270" r="18"/></g><g id="r3c4-4-8"><circle class="b" cx="106.4" cy="270" r="18"/></g>
<g id="r3c4-5-1"><circle class="o" cx="-228" cy="360" r="18"/></g><g id="r3c4-5-2"><circle class="o" cx="-197.6" cy="360" r="18"/></g><g id="r3c4-5-3"><circle class="b" cx="-167.2" cy="360" r="18"/></g><g id="r3c4-5-4"><circle class="b" cx="-136.8" cy="360" r="18"/></g><g id="r3c4-5-5"><circle class="o" cx="-106.4" cy="360" r="18"/></g><g id="r3c4-5-6"><circle class="o" cx="-76" cy="360" r="18"/></g><g id="r3c4-5-7"><circle class="b" cx="-45.6" cy="360" r="18"/></g><g id="r3c4-5-8"><circle class="b" cx="-15.2" cy="360" r="18"/></g><g id="r3c4-5-9"><circle class="o" cx="15.2" cy="360" r="18"/></g><g id="r3c4-5-10"><circle class="o" cx="45.6" cy="360" r="18"/></g><g id="r3c4-5-11"><circle class="o" cx="76" cy="360" r="18"/></g><g id="r3c4-5-12"><circle class="o" cx="106.4" cy="360" r="18"/></g><g id="r3c4-5-13"><circle class="b" cx="136.8" cy="360" r="18"/></g><g id="r3c4-5-14"><circle class="b" cx="167.2" cy="360" r="18"/></g><g id="r3c4-5-15"><circle class="b" cx="197.6" cy="360" r="18"/></g><g id="r3c4-5-16"><circle class="b" cx="228" cy="360" r="18"/></g>
</g>

<!-- Connectors -->
<g id="connectors">
<line class="em" x1="1506.6" y1="162.5" x2="1507" y2="201.7"/>
<line class="em" x1="1909" y1="162.5" x2="1909.8" y2="201.7"/>
<use href="#pairEdges" x="704" y="459.3"/>
<use href="#pairEdges" x="840.3" y="459.3"/>
<use href="#pairEdges" x="976.6" y="459.3"/>
<use href="#pairEdges" x="1112.9" y="459.3"/>
<use href="#pairEdges" x="1445" y="459.3"/>
<use href="#pairEdges" x="1581.3" y="459.3"/>
<use href="#pairEdges" x="1717.6" y="459.3"/>
<use href="#pairEdges" x="1853.9" y="459.3"/>
<use href="#treeEdges" x="373.2" y="825.7"/>
<use href="#treeEdges" x="959.5" y="825.7"/>
<use href="#treeEdges" x="1545.8" y="825.7"/>
<use href="#treeEdges" x="2132.1" y="825.7"/>
<use href="#treeEdges" x="373.2" y="1295.5"/>
<use href="#treeEdges" x="959.5" y="1295.5"/>
<use href="#treeEdges" x="1545.8" y="1295.5"/>
<use href="#treeEdges" x="2132.1" y="1295.5"/>
<use href="#treeEdges" x="373.2" y="1764.5"/>
<use href="#treeEdges" x="959.5" y="1764.5"/>
<use href="#treeEdges" x="1545.8" y="1764.5"/>
<use href="#treeEdges" x="2132.1" y="1764.5"/>
</g>
</svg>
